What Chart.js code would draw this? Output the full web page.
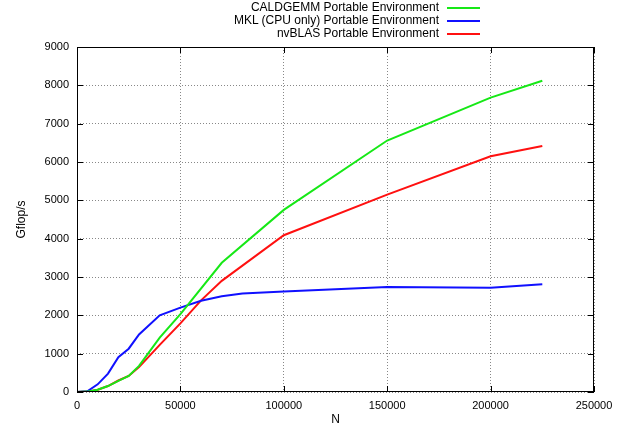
<!DOCTYPE html>
<html><head><meta charset="utf-8">
<script src="https://cdn.jsdelivr.net/npm/chart.js@4/dist/chart.umd.min.js"></script>
<style>
html,body{margin:0;padding:0;background:#fff;}
#wrap{position:relative;width:633px;height:427px;}
#legend{position:absolute;top:0;left:0;width:633px;font-family:"Liberation Sans",Arial,sans-serif;font-size:12px;color:#000;}
.row{position:absolute;height:13px;line-height:13px;}
.row span.t{position:absolute;right:0;white-space:nowrap;}
.sw{position:absolute;height:2px;}
</style></head>
<body><div id="wrap"><canvas id="c" width="633" height="427"></canvas><div id="legend"></div></div>
<script>
const seriesNames = ["CALDGEMM Portable Environment","MKL (CPU only) Portable Environment","nvBLAS Portable Environment"];
const seriesColors = ["#16e816","#1010ff","#ff1010"];
const caldgemmN = [0,5000,10000,15000,20000,25000,30000,40000,50000,70000,100000,150000,200000,225000];
const caldgemmGflops = [0,10,60,155,290,420,680,1420,2030,3370,4750,6560,7680,8120];
const mklN = [0,5000,10000,15000,20000,25000,30000,40000,50000,60000,70000,80000,100000,150000,200000,225000];
const mklGflops = [0,20,200,480,910,1130,1500,2000,2200,2380,2500,2570,2620,2740,2720,2810];
const nvblasN = [0,5000,10000,15000,20000,25000,30000,40000,50000,60000,70000,100000,150000,200000,225000];
const nvblasGflops = [0,10,60,155,300,420,650,1230,1790,2390,2900,4090,5150,6150,6420];
const xTicks = [0,50000,100000,150000,200000,250000];
const yTicks = [0,1000,2000,3000,4000,5000,6000,7000,8000,9000];

const FONT = "'Liberation Sans', Arial, sans-serif";
function pts(xs, ys){ return xs.map((x,i)=>({x:x,y:ys[i]})); }

const leg = document.getElementById('legend');
seriesNames.forEach((n,i)=>{
  const y = 1 + i*13;
  const r = document.createElement('div'); r.className='row';
  r.style.top = y+'px'; r.style.left='0px'; r.style.width='439px';
  const t = document.createElement('span'); t.className='t'; t.textContent = n; r.appendChild(t);
  leg.appendChild(r);
  const s = document.createElement('div'); s.className='sw';
  s.style.left='447px'; s.style.width='33px'; s.style.top=(y+6)+'px'; s.style.background=seriesColors[i];
  leg.appendChild(s);
});

const borderPlugin = {
  id:'border',
  afterDraw(chart){
    const {ctx, chartArea:a, scales} = chart;
    ctx.save();
    ctx.strokeStyle='#000'; ctx.lineWidth=1;
    ctx.strokeRect(a.left+0.5, a.top+0.5, a.right-a.left-1, a.bottom-a.top-1);
    ctx.beginPath();
    yTicks.forEach(v=>{ const y=Math.round(scales.y.getPixelForValue(v))+0.5;
      ctx.moveTo(a.left,y); ctx.lineTo(a.left+6,y); ctx.moveTo(a.right,y); ctx.lineTo(a.right-6,y);});
    xTicks.forEach(v=>{ const x=Math.round(scales.x.getPixelForValue(v))+0.5;
      ctx.moveTo(x,a.bottom); ctx.lineTo(x,a.bottom-6); ctx.moveTo(x,a.top); ctx.lineTo(x,a.top+6);});
    ctx.stroke();
    ctx.restore();
  }
};

new Chart(document.getElementById('c'), {
  type:'line',
  data:{ datasets:[
    {label:seriesNames[0], data:pts(caldgemmN,caldgemmGflops), borderColor:seriesColors[0], borderWidth:2, pointRadius:0, fill:false, tension:0},
    {label:seriesNames[1], data:pts(mklN,mklGflops), borderColor:seriesColors[1], borderWidth:2, pointRadius:0, fill:false, tension:0},
    {label:seriesNames[2], data:pts(nvblasN,nvblasGflops), borderColor:seriesColors[2], borderWidth:2, pointRadius:0, fill:false, tension:0}
  ]},
  options:{
    responsive:false, animation:false, devicePixelRatio:1,
    layout:{padding:{top:47,right:39,left:0,bottom:0}},
    plugins:{legend:{display:false}, tooltip:{enabled:false}},
    scales:{
      x:{type:'linear', min:0, max:250000,
        afterBuildTicks(s){ s.ticks = xTicks.map(v=>({value:v})); },
        afterFit(s){ s.height = 35; },
        grid:{color:'#888', drawTicks:false, lineWidth:1},
        border:{display:false, dash:[1,2]},
        ticks:{color:'#000', font:{family:FONT,size:11}, padding:7, maxRotation:0, autoSkip:false, callback:v=>String(v)},
        title:{display:true, text:'N', color:'#000', font:{family:FONT,size:12}, padding:{top:0,bottom:0}}
      },
      y:{type:'linear', min:0, max:9000,
        afterBuildTicks(s){ s.ticks = yTicks.map(v=>({value:v})); },
        afterFit(s){ s.width = 77; },
        grid:{color:'#888', drawTicks:false, lineWidth:1},
        border:{display:false, dash:[1,2]},
        ticks:{color:'#000', font:{family:FONT,size:11}, padding:8, autoSkip:false, callback:v=>String(v)},
        title:{display:true, text:'Gflop/s', color:'#000', font:{family:FONT,size:12}, padding:{top:14,bottom:0}}
      }
    }
  },
  plugins:[borderPlugin]
});
</script></body></html>
